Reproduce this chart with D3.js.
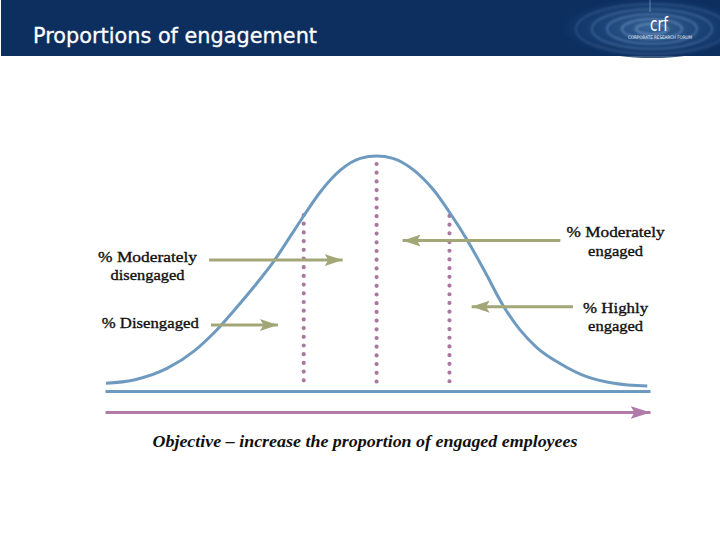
<!DOCTYPE html>
<html><head><meta charset="utf-8">
<script src="https://cdn.jsdelivr.net/npm/d3@7"></script>
<style>body{margin:0;background:#fff}svg{display:block}</style>
</head><body><svg id="c" width="720" height="540"></svg>
<script>
// ---- data ----
const title = "Proportions of engagement";
const logoText = "crf";
const logoSub = "CORPORATE RESEARCH FORUM";
// bell curve (x in SD units, y relative height)
const curveX = [-2.99,-2.68,-2.31,-2.01,-1.79,-1.57,-1.35,-1.13,-0.95,-0.80,-0.62,-0.40,-0.18,0,0.18,0.41,0.63,0.82,1.00,1.20,1.40,1.58,1.77,2.03,2.32,2.62,2.99];
const curveY = [0.033,0.047,0.097,0.172,0.250,0.345,0.446,0.555,0.660,0.748,0.848,0.940,0.990,1.0,0.990,0.940,0.855,0.752,0.643,0.505,0.362,0.262,0.185,0.116,0.061,0.033,0.021];
// segment dividers
const cutX = [-0.805, 0, 0.805];
const cutTop = [0.749, 0.966, 0.745];
const cutBottom = [0.026, 0.017, 0.026];
// pointer arrows
const arrowFromX = [-1.85, -1.83, 2.03, 2.17];
const arrowToX = [-0.375, -1.09, 0.287, 1.05];
const arrowY = [0.557, 0.281, 0.640, 0.359];
// labels
const labelLines = [["% Moderately","disengaged"],["% Disengaged"],["% Moderately","engaged"],["% Highly","engaged"]];
const labelX = [-2.53, -2.50, 2.64, 2.64];
const labelY = [0.550, 0.269, 0.654, 0.333];
const labelWidths = [[99,74],[97],[98,55],[65,55]];
const objective = "Objective \u2013 increase the proportion of engaged employees";

// ---- drawing ----
const svg = d3.select("#c");
const W = 720, H = 540;
const x = d3.scaleLinear().domain([-3, 3.02]).range([105, 650]);
const y = d3.scaleLinear().domain([0, 1]).range([391, 156]);

const defs = svg.append("defs");
const rg = defs.append("radialGradient").attr("id","rip").attr("cx","0.5").attr("cy","0.5").attr("r","0.5");
rg.append("stop").attr("offset","0%").attr("stop-color","#4371a6");
rg.append("stop").attr("offset","50%").attr("stop-color","#224c82");
rg.append("stop").attr("offset","100%").attr("stop-color","#0c2f60");
const blur = defs.append("filter").attr("id","bl").attr("x","-20%").attr("y","-50%").attr("width","140%").attr("height","200%");
blur.append("feGaussianBlur").attr("stdDeviation",1.2);
function marker(id, color, len, half){
  defs.append("marker").attr("id",id).attr("markerUnits","userSpaceOnUse")
    .attr("viewBox",`0 ${-half} ${len} ${half*2}`).attr("refX",len).attr("refY",0)
    .attr("markerWidth",len).attr("markerHeight",half*2).attr("orient","auto")
    .append("path").attr("d",`M0,${-half}L${len},0L0,${half}L${len*0.2},0Z`).attr("fill",color);
}
marker("ao","#a3a777",18,6);
marker("ap","#b07ba9",20,6.5);

// header
svg.append("rect").attr("x",1).attr("y",0).attr("width",W-1).attr("height",56).attr("fill","#0c2f60");
const lg = svg.append("g");
lg.append("ellipse").attr("cx",652).attr("cy",28).attr("rx",90).attr("ry",30).attr("fill","url(#rip)").attr("opacity",0.8);
const rip = lg.append("g").attr("filter","url(#bl)");
[16,30,45,60,76].forEach((r,i)=>{
  rip.append("ellipse").attr("cx",652).attr("cy",29).attr("rx",r).attr("ry",r*0.33)
    .attr("fill","none").attr("stroke","#9dbde2").attr("stroke-opacity",0.45-i*0.07).attr("stroke-width",2);
});
lg.append("line").attr("x1",650).attr("x2",650).attr("y1",0).attr("y2",12).attr("stroke","#a9c4e6").attr("stroke-opacity",0.5);
lg.append("text").attr("x",659).attr("y",31).attr("text-anchor","middle").attr("fill","#fff")
  .attr("font-family","DejaVu Sans, sans-serif").attr("font-size",20).attr("textLength",18).attr("lengthAdjust","spacingAndGlyphs").text(logoText);
lg.append("text").attr("x",660).attr("y",38.5).attr("text-anchor","middle").attr("fill","#e6eef8")
  .attr("font-family","DejaVu Sans, sans-serif").attr("font-size",4.8).attr("textLength",64).attr("lengthAdjust","spacingAndGlyphs").text(logoSub);
svg.append("text").attr("x",33).attr("y",43).attr("fill","#fff")
  .attr("font-family","DejaVu Sans, sans-serif").attr("font-size",21).attr("stroke","#fff").attr("stroke-width",0.3)
  .attr("textLength",284).attr("lengthAdjust","spacingAndGlyphs").text(title);

// baseline axis
const axis = svg.append("g").attr("transform",`translate(0,${y(0)})`)
  .call(d3.axisBottom(x).tickValues([]).tickSizeOuter(0));
axis.select(".domain").attr("stroke","#6f9ac0").attr("stroke-width",3);

// dividers
cutX.forEach((cx,i)=>{
  svg.append("line").attr("x1",x(cx)).attr("x2",x(cx)).attr("y1",y(cutTop[i])).attr("y2",y(cutBottom[i]))
    .attr("stroke","#a7799f").attr("stroke-width",4.2).attr("stroke-linecap","round").attr("stroke-dasharray","0 8.7");
});

// curve
const pts = curveX.map((d,i)=>[d,curveY[i]]);
svg.append("path").datum(pts)
  .attr("d", d3.line().x(d=>x(d[0])).y(d=>y(d[1])).curve(d3.curveMonotoneX))
  .attr("fill","none").attr("stroke","#6f9ac0").attr("stroke-width",3);

// arrows
arrowY.forEach((ay,i)=>{
  svg.append("line").attr("x1",x(arrowFromX[i])).attr("x2",x(arrowToX[i])).attr("y1",y(ay)).attr("y2",y(ay))
    .attr("stroke","#a3a777").attr("stroke-width",3).attr("marker-end","url(#ao)");
});

// labels
labelLines.forEach((lines,i)=>{
  lines.forEach((t,j)=>{
    svg.append("text").attr("x",x(labelX[i])).attr("y",y(labelY[i])+j*18.5)
      .attr("text-anchor","middle").attr("font-family","Liberation Serif, Times New Roman, serif")
      .attr("font-size",15).attr("fill","#111").attr("stroke","#111").attr("stroke-width",0.35)
      .attr("textLength",labelWidths[i][j]).attr("lengthAdjust","spacingAndGlyphs").text(t);
  });
});

// objective arrow
const ax2 = svg.append("g").attr("transform","translate(0,412)")
  .call(d3.axisBottom(x).tickValues([]).tickSizeOuter(0));
ax2.select(".domain").attr("stroke","#b07ba9").attr("stroke-width",3).attr("marker-end","url(#ap)");
svg.append("text").attr("x",365).attr("y",447).attr("text-anchor","middle")
  .attr("font-family","Liberation Serif, Times New Roman, serif").attr("font-style","italic").attr("font-weight","bold")
  .attr("font-size",16).attr("fill","#111").attr("textLength",425).attr("lengthAdjust","spacingAndGlyphs").text(objective);
</script></body></html>
